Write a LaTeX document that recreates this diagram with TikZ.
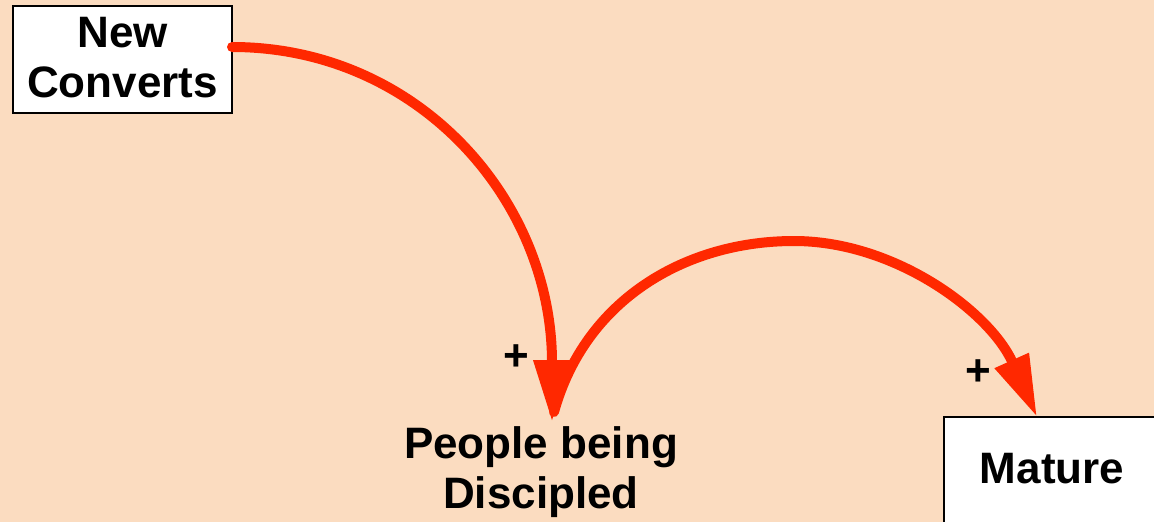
\documentclass[tikz,border=0pt]{standalone}
\usepackage{fontspec}
\setmainfont{Liberation Sans}
\usetikzlibrary{arrows.meta}
\definecolor{bgpeach}{RGB}{251,220,192}
\definecolor{arrowred}{RGB}{255,40,0}
\tikzset{
  x=1pt, y=-1pt,
  box/.style={draw=black, line width=2pt, fill=white, inner sep=0pt},
  lbl/.style={font=\fontsize{44}{50}\selectfont\bfseries, align=center, inner sep=0pt},
  plus/.style={font=\fontsize{44}{44}\selectfont\bfseries, inner sep=0pt},
  link/.style={draw=arrowred, line width=10pt, line cap=round,
    -{Triangle[length=62pt, width=35pt]}},
}
\begin{document}
\begin{tikzpicture}
\fill[bgpeach] (0,0) rectangle (1154,522);
\useasboundingbox (0,0) rectangle (1154,522);
% nodes
\node[box, minimum width=219pt, minimum height=107pt] (ncbox) at (122.5,59.5) {};
\node[lbl] (nc) at (122.5,57.5) {New\\Converts};
\node[lbl] (pbd) at (541,472) {People being\\Discipled};
\node[box, anchor=north west, minimum width=220pt, minimum height=140pt] (matbox) at (943,416) {};
\node[lbl] (mat) at (1052,468.5) {Mature};
\node[plus] (p1) at (516,358) {+};
\node[plus] (p2) at (978.5,372.5) {+};
% connector endpoints
\coordinate (a1s) at (232,47);
\coordinate (a1e) at (552,422);
\coordinate (a2s) at (554,412);
\coordinate (a2m) at (794,241);
\coordinate (a2e) at (1037,417);
% connectors
\draw[link] (a1s) .. controls (418,47) and (552,200) .. (a1e);
\draw[link] (a2s) .. controls (585,300) and (685,241) .. (a2m)
  .. controls (895,241) and (990,312) .. (a2e);
\end{tikzpicture}
\end{document}
